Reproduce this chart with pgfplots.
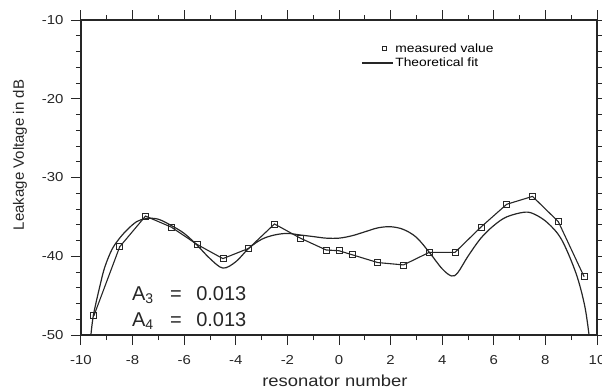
\documentclass[border=0pt]{standalone}
\usepackage{fontspec}
\setmainfont{Liberation Sans}[FakeStretch=1.15]
\newfontfamily\plainsans{Liberation Sans}
\usepackage{pgfplots}
\pgfplotsset{compat=1.18}

\begin{document}
\begin{tikzpicture}
\begin{axis}[
  at={(0pt,0pt)}, anchor=south west,
  width=516pt, height=315pt, scale only axis,
  xmin=-10, xmax=10, ymin=-50, ymax=-10,
  xtick={-10,-8,...,10}, ytick={-50,-40,...,-10},
  minor x tick num=1, minor y tick num=4,
  tick align=outside,
  xtick pos=both, ytick pos=both,
  xticklabel pos=lower, yticklabel pos=left,
  major tick length=10pt, minor tick length=5pt,
  axis line style={line width=1.3pt, black!85},
  every tick/.style={line width=1pt, black!85},
  tick label style={font=\fontsize{13}{15}\selectfont, black!85},
  xticklabel style={yshift=-7pt},
  yticklabel style={xshift=-4pt},
  /pgf/number format/assume math mode=true,
  xlabel={resonator number},
  ylabel={Leakage Voltage in dB},
  every axis x label/.style={at={(axis description cs:0.492,-0.165)}, anchor=base, font=\fontsize{16}{18}\selectfont, black!85},
  every axis y label/.style={at={(axis description cs:-0.1182,0.5714)}, rotate=90, anchor=center, font=\plainsans\fontsize{15}{17}\selectfont, black!85},
  legend style={draw=none, fill=none, inner sep=0pt, at={(axis description cs:0.5426,0.886)}, anchor=west, font=\fontsize{12}{14}\selectfont, row sep=0pt, nodes={inner sep=2pt}},
  legend cell align=left,
]
\addplot[black!85, line width=1.1pt, mark=square, mark size=3pt, mark options={line width=0.8pt},
  legend image code/.code={\path[draw=none] (0pt,0pt) -- (31pt,0pt); \draw[line width=0.7pt] plot[mark=square, mark size=2pt, only marks] coordinates {(23pt,0pt)};}]
coordinates {
(-9.5,-47.55) (-8.5,-38.8) (-7.5,-34.9) (-6.5,-36.3) (-5.5,-38.5) (-4.5,-40.3)
(-3.5,-39.0) (-2.5,-35.9) (-1.5,-37.7) (-0.5,-39.2) (0,-39.3) (0.5,-39.8)
(1.5,-40.8) (2.5,-41.1) (3.5,-39.5) (4.5,-39.5) (5.5,-36.3) (6.5,-33.4)
(7.5,-32.4) (8.5,-35.6) (9.5,-42.6)
};
\addlegendentry{measured value}
\addplot[black!85, line width=1.2pt, smooth, tension=0.55,
  legend image code/.code={\draw[line width=1.2pt] (0pt,0pt) -- (31pt,0pt);}]
coordinates {
(-9.63,-50.5) (-9.52,-47.5) (-9.24,-43.4) (-9.07,-41.3) (-8.81,-39.2) (-8.55,-37.9)
(-8.23,-36.7) (-7.84,-35.6) (-7.45,-35.2) (-7,-35.3) (-6.5,-36.1) (-6,-37.1)
(-5.5,-38.6) (-5,-40.3) (-4.5,-41.5) (-4,-40.7) (-3.5,-39.0) (-3,-37.85)
(-2.5,-37.3) (-2,-37.1) (-1.5,-37.3) (-1,-37.5) (-0.5,-37.7) (0,-37.7)
(0.5,-37.4) (1,-36.9) (1.5,-36.4) (2,-36.25) (2.5,-36.6) (3,-37.6)
(3.5,-39.5) (4,-41.6) (4.36,-42.5) (4.6,-42.1) (5,-40.0) (5.5,-37.7) (6,-36.1)
(6.5,-35.0) (7.2,-34.4) (7.6,-34.7) (8.1,-35.8) (8.63,-37.9) (9.19,-42.2)
(9.53,-46.4) (9.71,-50.5)
};
\addlegendentry{Theoretical fit}
\node[anchor=base west, inner sep=0pt, font=\plainsans\fontsize{20}{24}\selectfont, black!85] at (axis cs:-8.03,-45.56) {A\textsubscript{3}};
\node[anchor=base west, inner sep=0pt, font=\plainsans\fontsize{20}{24}\selectfont, black!85] at (axis cs:-6.55,-45.56) {=};
\node[anchor=base west, inner sep=0pt, font=\plainsans\fontsize{20}{24}\selectfont, black!85] at (axis cs:-5.54,-45.56) {0.013};
\node[anchor=base west, inner sep=0pt, font=\plainsans\fontsize{20}{24}\selectfont, black!85] at (axis cs:-8.03,-48.86) {A\textsubscript{4}};
\node[anchor=base west, inner sep=0pt, font=\plainsans\fontsize{20}{24}\selectfont, black!85] at (axis cs:-6.55,-48.86) {=};
\node[anchor=base west, inner sep=0pt, font=\plainsans\fontsize{20}{24}\selectfont, black!85] at (axis cs:-5.54,-48.86) {0.013};
\end{axis}
\pgfresetboundingbox
\path[use as bounding box] (-81pt,-54pt) rectangle (521pt,335pt);
\end{tikzpicture}
\end{document}
